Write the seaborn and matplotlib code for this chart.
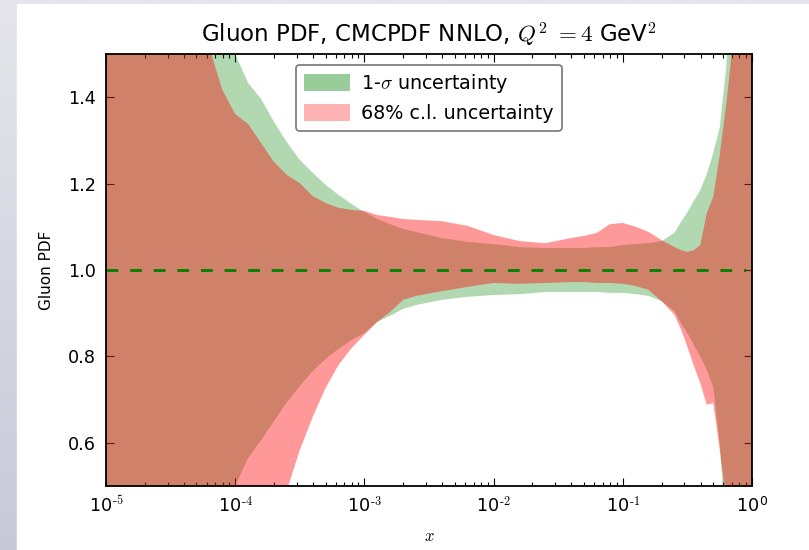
import numpy as np
import pandas as pd
import seaborn as sns
import matplotlib
matplotlib.use("Agg")
import matplotlib.pyplot as plt
from matplotlib.patches import Rectangle, Patch
from matplotlib.ticker import FixedLocator, FuncFormatter, NullLocator

# Common x grid (log10 x) on which both uncertainty bands are tabulated
log_x = [-5.0, -4.3, -4.2, -4.1, -4.0, -3.9, -3.8, -3.7, -3.6, -3.5, -3.4, -3.3,
         -3.2, -3.1, -3.0, -2.9, -2.8, -2.7, -2.6, -2.4, -2.2, -2.0, -1.8, -1.6,
         -1.4, -1.3, -1.2, -1.1, -1.0, -0.9, -0.8, -0.7, -0.6, -0.55, -0.5, -0.45,
         -0.4, -0.35, -0.3, -0.25, -0.2, -0.15, -0.1, 0.0]

# 1-sigma band (ratio to central value)
sigma_up = [2.30, 1.77, 1.68, 1.59, 1.500, 1.433, 1.396, 1.343, 1.296, 1.255, 1.225, 1.197,
            1.174, 1.153, 1.134, 1.118, 1.106, 1.095, 1.088, 1.074, 1.065, 1.060, 1.053, 1.051,
            1.051, 1.051, 1.053, 1.053, 1.058, 1.060, 1.062, 1.067, 1.086, 1.111, 1.134, 1.160,
            1.185, 1.222, 1.271, 1.329, 1.468, 1.70, 1.90, 2.30]
sigma_dn = [0.10, 0.30, 0.37, 0.44, 0.500, 0.565, 0.606, 0.650, 0.694, 0.731, 0.766, 0.794,
            0.817, 0.838, 0.854, 0.880, 0.894, 0.910, 0.919, 0.931, 0.938, 0.942, 0.944, 0.949,
            0.949, 0.949, 0.949, 0.947, 0.947, 0.944, 0.940, 0.928, 0.905, 0.877, 0.854, 0.826,
            0.799, 0.769, 0.729, 0.600, 0.380, 0.25, 0.10, -0.20]

# 68% c.l. band (ratio to central value)
cl68_up = [2.30, 1.66, 1.515, 1.417, 1.361, 1.338, 1.294, 1.250, 1.220, 1.201, 1.171, 1.155,
           1.144, 1.139, 1.137, 1.127, 1.123, 1.118, 1.116, 1.113, 1.102, 1.081, 1.067, 1.062,
           1.074, 1.079, 1.086, 1.106, 1.109, 1.100, 1.088, 1.069, 1.053, 1.046, 1.042, 1.046,
           1.058, 1.132, 1.169, 1.266, 1.382, 1.52, 1.80, 2.30]
cl68_dn = [-0.20, 0.05, 0.15, 0.22, 0.28, 0.33, 0.37, 0.40, 0.49, 0.583, 0.660, 0.727,
           0.780, 0.819, 0.850, 0.880, 0.903, 0.931, 0.940, 0.951, 0.961, 0.970, 0.968, 0.970,
           0.972, 0.972, 0.970, 0.970, 0.968, 0.963, 0.954, 0.928, 0.896, 0.863, 0.822, 0.778,
           0.738, 0.688, 0.692, 0.585, 0.470, 0.30, 0.15, -0.20]

x_decades = [-5, -4, -3, -2, -1, 0]
y_ticks = [0.6, 0.8, 1.0, 1.2, 1.4]
y_ticklabels = ["0.6", "0.8", "1.0", "1.2", "1.4"]

df = pd.DataFrame({"x": np.power(10.0, log_x),
                   "sigma_up": sigma_up, "sigma_dn": sigma_dn,
                   "cl68_up": cl68_up, "cl68_dn": cl68_dn})

sns.set_style("white")
plt.rcParams["font.family"] = ["DejaVu Sans"]
plt.rcParams["mathtext.fontset"] = "cm"
plt.rcParams["lines.scale_dashes"] = False
plt.rcParams["axes.unicode_minus"] = False
for key in ("text.color", "axes.labelcolor", "xtick.color", "ytick.color"):
    plt.rcParams[key] = "black"

W, H = 809, 550
fig = plt.figure(figsize=(W / 100, H / 100), dpi=100)

# slide backdrop: lavender-grey margin with white page
bg = fig.add_axes([0, 0, 1, 1], zorder=-10)
grad = np.linspace(0, 1, 256).reshape(-1, 1)
top_c = np.array([229, 229, 235]) / 255
bot_c = np.array([200, 201, 216]) / 255
img = top_c + (bot_c - top_c) * grad[:, :, None]
bg.imshow(img, extent=[0, 1, 0, 1], aspect="auto", origin="upper")
bg.add_patch(Rectangle((17 / W, 0), 1 - 17 / W, 1 - 4 / H, color="white",
                       transform=bg.transAxes))
bg.set_xlim(0, 1)
bg.set_ylim(0, 1)
bg.axis("off")

ax = fig.add_axes([106 / W, 64 / H, 646 / W, 432 / H])
ax.set_facecolor("none")

ax.fill_between(df["x"], df["sigma_dn"], df["sigma_up"], color="green", alpha=0.3,
                linewidth=0)
ax.fill_between(df["x"], df["cl68_dn"], df["cl68_up"], color="red", alpha=0.4,
                linewidth=0)
ax.plot([1e-5, 0.9], [1.0, 1.0], color="green", linestyle="--", linewidth=2,
        dashes=(8.5, 8.5))

ax.set_xscale("log")
ax.set_xlim(1e-5, 1)
ax.set_ylim(0.5, 1.5)
ax.xaxis.set_major_locator(FixedLocator([10.0 ** d for d in x_decades]))
ax.xaxis.set_major_formatter(FuncFormatter(
    lambda v, pos: "10$^{\\mathdefault{%d}}$" % round(np.log10(v))
    if round(np.log10(v)) == 0 else "10$^{\\text{-%d}}$" % -round(np.log10(v))))
ax.set_yticks(y_ticks)
ax.set_yticklabels(y_ticklabels)

for s in ax.spines.values():
    s.set_visible(True)
    s.set_color("black")
    s.set_linewidth(1.3)

ax.tick_params(which="both", direction="in", top=True, right=True,
               bottom=True, left=True, labelsize=12.7, pad=7, color="black",
               labelcolor="black")
ax.tick_params(which="major", length=6, width=0.8)
ax.tick_params(which="minor", length=3, width=0.8)
ax.minorticks_on()
ax.yaxis.set_minor_locator(NullLocator())

ax.set_title(r"Gluon PDF, CMCPDF NNLO, $Q^2\ {=}4$ GeV$^2$", fontsize=16.5, pad=8,
             color="black")
ax.set_ylabel("Gluon PDF", fontsize=11, labelpad=10, color="black")
ax.set_xlabel(r"$x$", fontsize=12, labelpad=8, color="black")

handles = [Patch(facecolor="green", alpha=0.4, edgecolor="none", label=r"1-$\sigma$ uncertainty"),
           Patch(facecolor="red", alpha=0.3, edgecolor="none", label="68% c.l. uncertainty")]
leg = ax.legend(handles=handles, loc="upper center", fontsize=13.8, frameon=True,
                fancybox=True, handlelength=2.4, handleheight=0.95, handletextpad=0.6,
                labelspacing=0.45, borderpad=0.4, borderaxespad=0.55)
leg.get_frame().set_edgecolor("#808080")
leg.get_frame().set_linewidth(1.3)
leg.get_frame().set_alpha(1.0)
for t in leg.get_texts():
    t.set_color("black")

fig.savefig("out.png", dpi=100)
